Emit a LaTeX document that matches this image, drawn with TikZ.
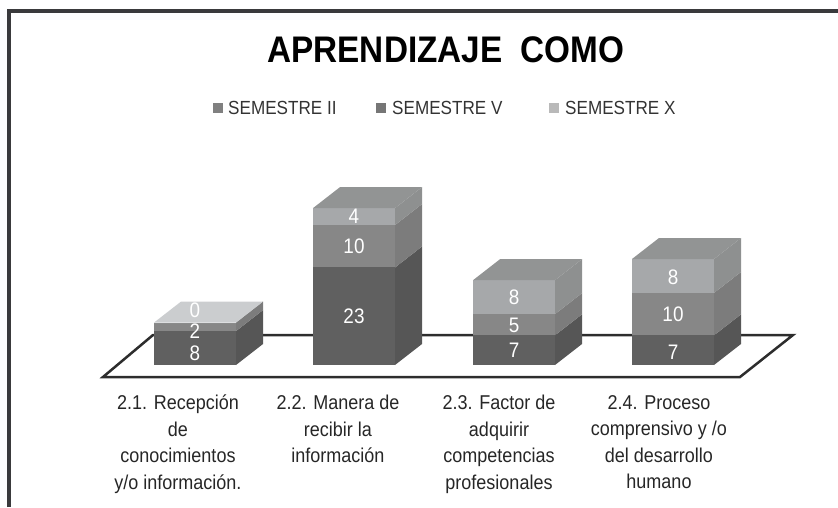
\documentclass[tikz,border=0pt]{standalone}
\usepackage{fontspec}
\setmainfont[FakeStretch=0.9]{Liberation Sans}
\usetikzlibrary{positioning}
\definecolor{frameline}{RGB}{58,58,60}
\definecolor{floorline}{RGB}{45,45,45}
\definecolor{semtwo}{RGB}{96,96,96}
\definecolor{semtwoside}{RGB}{86,86,86}
\definecolor{semfive}{RGB}{135,135,135}
\definecolor{semfiveside}{RGB}{124,124,124}
\definecolor{semten}{RGB}{166,168,170}
\definecolor{semtenside}{RGB}{142,144,144}
\definecolor{bartop}{RGB}{146,148,148}
\definecolor{bartoplight}{RGB}{203,205,207}
\definecolor{keytwo}{RGB}{128,128,128}
\definecolor{keyfive}{RGB}{118,118,118}
\definecolor{keyten}{RGB}{185,185,185}

\begin{document}
\begin{tikzpicture}[
    x=1pt,y=-1pt,
    frame/.style={draw=frameline,line width=4pt},
    floor/.style={draw=floorline,line width=2.5pt},
    title/.style={font=\fontsize{37}{40}\selectfont\bfseries,inner sep=0pt},
    value/.style={text=white,font=\fontsize{21}{24}\selectfont,inner sep=0pt},
    category/.style={align=center,anchor=north,inner sep=0pt,text=black!85,font=\fontsize{20}{26.5}\selectfont},
    legendkey/.style={minimum size=10pt,inner sep=0pt},
    legendtext/.style={anchor=west,inner sep=0pt,text=black!80,font=\fontsize{19}{22}\selectfont}
]
\useasboundingbox (0,0) rectangle (838,507);

% Frame
\draw[frame] (9,507) -- (9,11) -- (838,11);

% Title and legend
\node[title] (title) at (446,50) {APRENDIZAJE~ COMO};
\node[legendkey,fill=keytwo] (k2) at (218,108) {};
\node[legendtext] (l2) at (228,108) {SEMESTRE II};
\node[legendkey,fill=keyfive] (k5) at (381,108) {};
\node[legendtext] (l5) at (392,108) {SEMESTRE V};
\node[legendkey,fill=keyten] (k10) at (554,108) {};
\node[legendtext] (l10) at (565,108) {SEMESTRE X};

% Floor
\draw[floor] (103,377) -- (153,335) -- (793,335) -- (740,377) -- cycle;

% Stacked 3D bars
\foreach \bx/\va/\vb/\vc/\topc in {154/8/2/0/bartoplight, 313/23/10/4/bartop, 473/7/5/8/bartop, 632/7/10/8/bartop}{
  \pgfmathsetmacro\ya{365-4.24*\va}
  \pgfmathsetmacro\yb{\ya-4.24*\vb}
  \pgfmathsetmacro\yc{\yb-4.24*\vc}
  % semestre II
  \fill[semtwo] (\bx,365) rectangle (\bx+82,\ya);
  \fill[semtwoside] (\bx+82,365) -- (\bx+109,344) -- (\bx+109,\ya-21) -- (\bx+82,\ya) -- cycle;
  % semestre V
  \fill[semfive] (\bx,\ya) rectangle (\bx+82,\yb);
  \fill[semfiveside] (\bx+82,\ya) -- (\bx+109,\ya-21) -- (\bx+109,\yb-21) -- (\bx+82,\yb) -- cycle;
  % semestre X
  \fill[semten] (\bx,\yb) rectangle (\bx+82,\yc);
  \fill[semtenside] (\bx+82,\yb) -- (\bx+109,\yb-21) -- (\bx+109,\yc-21) -- (\bx+82,\yc) -- cycle;
  % top
  \fill[\topc] (\bx,\yc) -- (\bx+82,\yc) -- (\bx+109,\yc-21) -- (\bx+27,\yc-21) -- cycle;
}

% Values
\foreach \vx/\vy/\vt [count=\i] in {195/353/8, 195/331/2, 195/310/0, 354/316/23, 354/246/10, 354/216/4,
    514/350/7, 514/325/5, 514/297/8, 673/352/7, 673/314/10, 673/277/8}
  \node[value] (val\i) at (\vx,\vy) {\vt};

% Categories
\node[category] (c1) at (178,395) {2.1. Recepción\\de\\conocimientos\\y/o información.};
\node[category] (c2) at (338,395) {2.2. Manera de\\recibir la\\información};
\node[category] (c3) at (499,395) {2.3. Factor de\\adquirir\\competencias\\profesionales};
\node[category] (c4) at (659,395) {2.4. Proceso\\comprensivo y /o\\del desarrollo\\humano};

\end{tikzpicture}
\end{document}
